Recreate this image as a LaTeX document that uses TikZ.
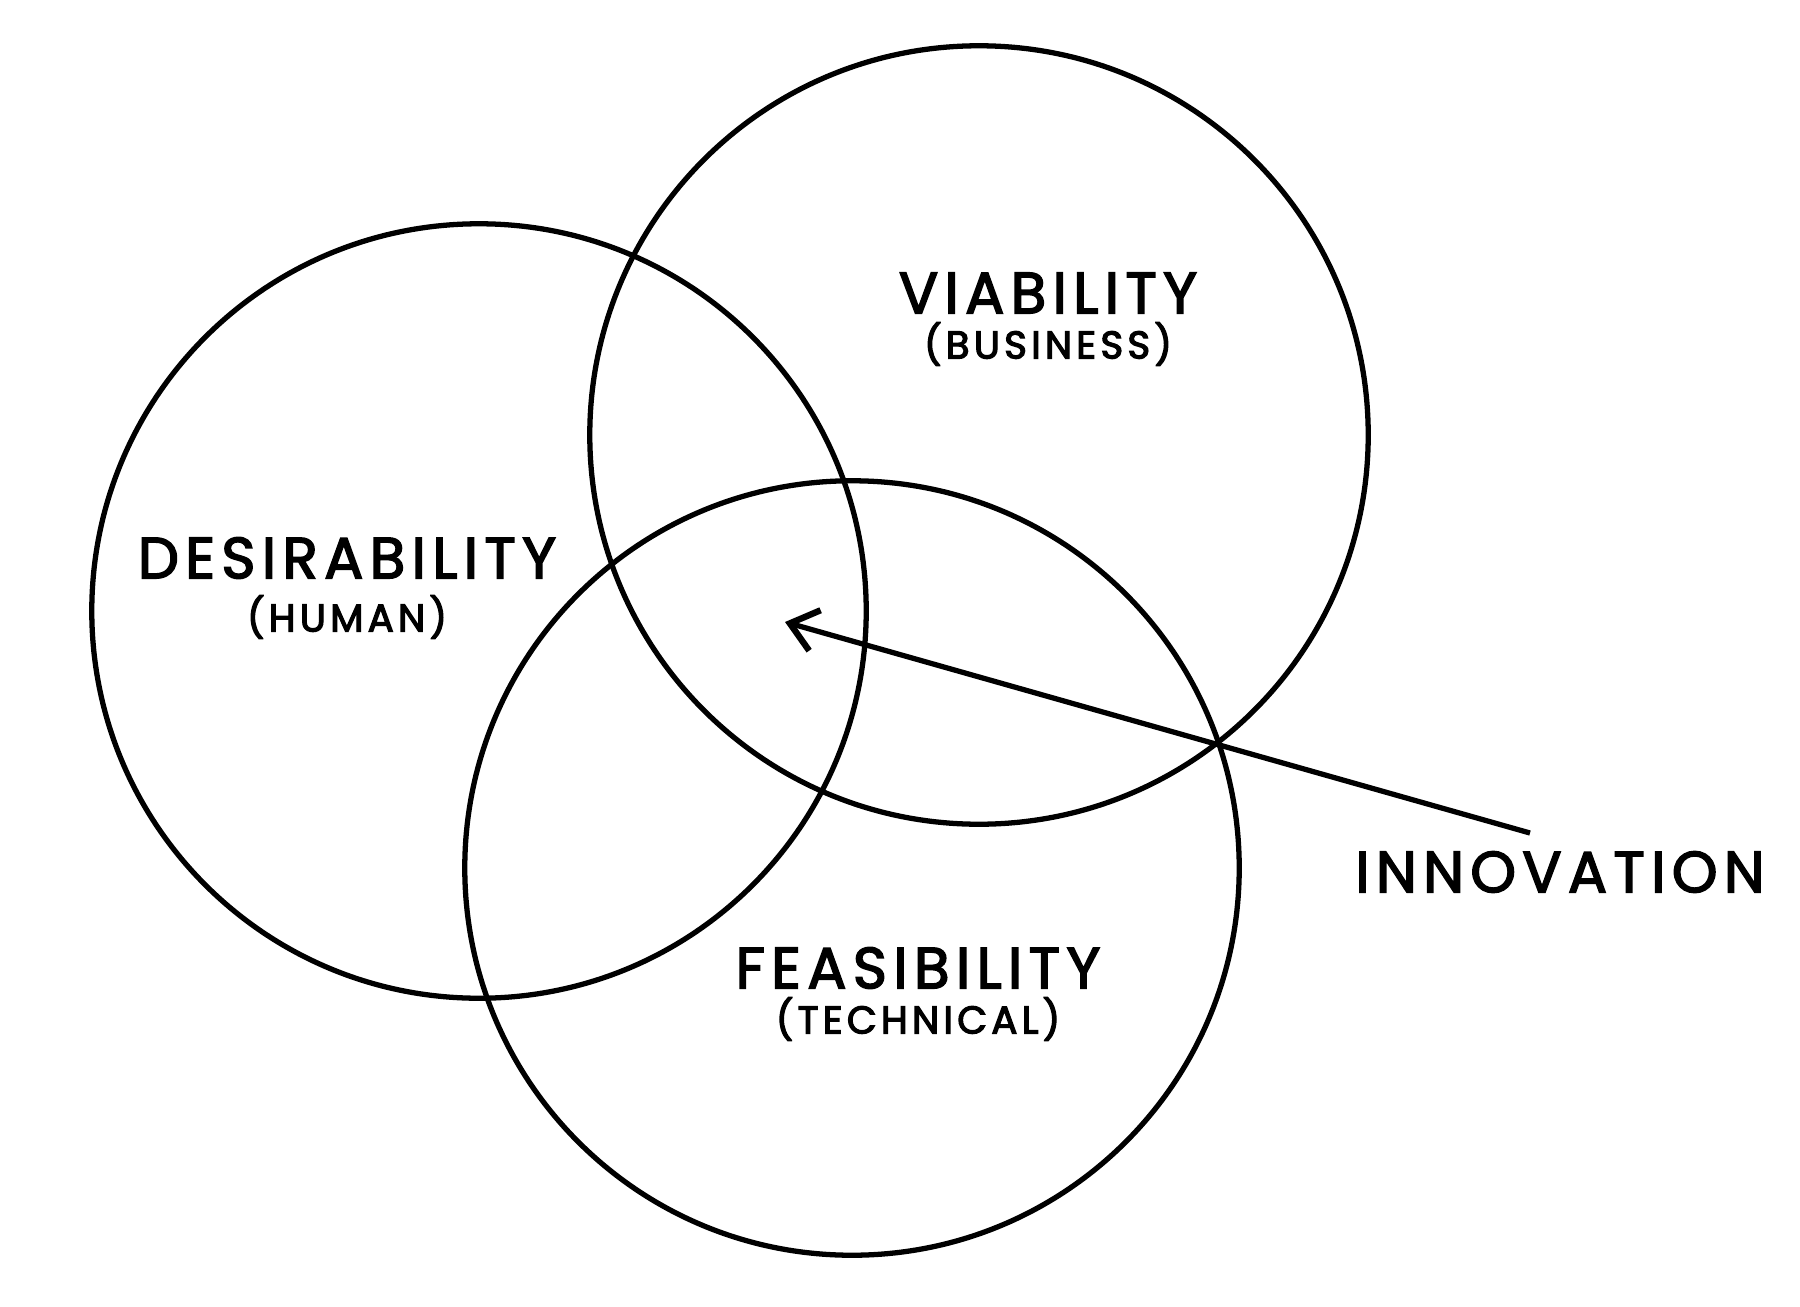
\documentclass[tikz,border=0pt]{standalone}
\usepackage{fontspec}
\setmainfont{Poppins}
\usepackage{tikz}
\usetikzlibrary{arrows.meta,positioning}

% slightly heavier letters: fill and stroke the glyphs
\newcommand{\heavyon}[1]{\special{pdf:literal direct 2 Tr #1 w}}
\newcommand{\heavyoff}{\special{pdf:literal direct 0 Tr}}

\begin{document}
\begin{tikzpicture}[x=0.01cm,y=-0.01cm,
            lens/.style={circle,draw,line width=1.5pt,minimum size=#1},
            head/.style={font=\fontsize{16.5}{18}\selectfont\addfontfeatures{LetterSpace=11},
                         execute at begin node=\heavyon{0.45}, execute at end node=\heavyoff},
            sub/.style={font=\fontsize{11}{13}\selectfont\addfontfeatures{LetterSpace=11},
                         execute at begin node=\heavyon{0.35}, execute at end node=\heavyoff},
            pointer/.style={line width=1.5pt,-{Straight Barb[length=2.6mm,width=4.2mm,line width=1.8pt]}}]

            \useasboundingbox (0,0) rectangle (1800,1306);

            % the three circles
            \node[lens=7.74cm] (human) at (479,611) {};
            \node[lens=7.78cm] (business) at (979,435) {};
            \node[lens=7.74cm] (technical) at (852,868) {};

            % labels
            \node[head] (des) at (347,558) {DESIRABILITY};
            \node[sub] (des_s) at (347,617) {(HUMAN)};
            \node[head] (via) at (1048,293) {VIABILITY};
            \node[sub] (via_s) at (1048,344) {(BUSINESS)};
            \node[head] (fea) at (918,968) {FEASIBILITY};
            \node[sub] (fea_s) at (918,1019) {(TECHNICAL)};
            \node[head] (innov) at (1560,872) {INNOVATION};

            % arrow into the middle
            \coordinate (from) at (1530,833);
            \coordinate (core) at (785,622);
            \draw[pointer] (from) -- (core);

\end{tikzpicture}
\end{document}
